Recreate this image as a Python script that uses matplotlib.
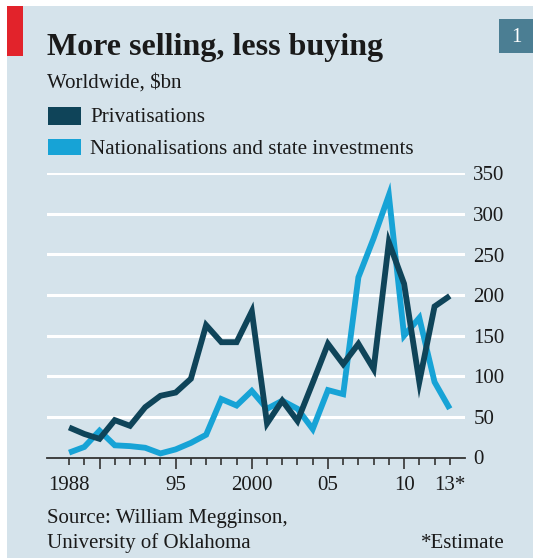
import matplotlib
matplotlib.use("Agg")
import matplotlib.pyplot as plt
from matplotlib.patches import Rectangle

years = list(range(1988, 2014))
privatisations = [37, 29, 23, 46, 39, 62, 76, 80, 97, 163, 142, 142, 180,
                  42, 70, 45, 92, 140, 115, 140, 109, 265, 214, 93, 186, 199]
nationalisations = [6, 13, 33, 15, 14, 12, 5, 10, 18, 28, 72, 64, 82,
                    60, 70, 60, 35, 83, 78, 222, 270, 323, 150, 172, 93, 60]
yticks = [0, 50, 100, 150, 200, 250, 300, 350]
xlabels = {1988: "1988", 1995: "95", 2000: "2000", 2005: "05", 2010: "10", 2013: "13*"}

W, H = 533, 558
BG = "#d5e3eb"
DARK = "#0f4459"
LIGHT = "#17a3d6"
plt.rcParams['font.family'] = ['Liberation Serif', 'DejaVu Serif']

fig = plt.figure(figsize=(W / 100, H / 100), dpi=100)
fig.patch.set_facecolor("white")

def fx(x):
    return x / W

def fy(y):
    return 1 - y / H

# background panel
fig.patches.append(Rectangle((fx(7), 0), 1 - fx(7), fy(6), transform=fig.transFigure,
                             facecolor=BG, edgecolor="none", zorder=-5))
# red bar
fig.patches.append(Rectangle((fx(7), fy(56)), fx(23) - fx(7), fy(6) - fy(56),
                             transform=fig.transFigure, facecolor="#e2232b",
                             edgecolor="none", zorder=1))
# number box
fig.patches.append(Rectangle((fx(499), fy(53)), fx(533) - fx(499), fy(19) - fy(53),
                             transform=fig.transFigure, facecolor="#4b7e93",
                             edgecolor="none", zorder=1))
fig.text(fx(516), fy(37), "1", color="white", fontsize=15, ha="center", va="center")

fig.text(fx(47), fy(55), "More selling, less buying", fontsize=23, fontweight="bold",
         color="#1a1a1a", va="baseline")
fig.text(fx(47), fy(87.5), "Worldwide, $bn", fontsize=15, color="#1a1a1a", va="baseline")

# legend
fig.patches.append(Rectangle((fx(47.5), fy(125)), fx(81) - fx(47.5), fy(107) - fy(125),
                             transform=fig.transFigure, facecolor=DARK, edgecolor="none"))
fig.patches.append(Rectangle((fx(47.5), fy(155)), fx(81) - fx(47.5), fy(139) - fy(155),
                             transform=fig.transFigure, facecolor=LIGHT, edgecolor="none"))
fig.text(fx(90), fy(122.5), "Privatisations", fontsize=15.2, color="#1a1a1a", va="baseline")
fig.text(fx(90), fy(153.5), "Nationalisations and state investments", fontsize=15.2,
         color="#1a1a1a", va="baseline")

# axes
left, right, top, bottom = 47, 465, 173.3, 457.5
ax = fig.add_axes([fx(left), fy(bottom), fx(right) - fx(left), fy(top) - fy(bottom)])
ax.set_zorder(3)
ax.set_facecolor("none")
ax.set_xlim(1986.55, 2014.0)
ax.set_ylim(0, 350)
for s in ["top", "left", "right"]:
    ax.spines[s].set_visible(False)
ax.spines["bottom"].set_color("#333333")
ax.spines["bottom"].set_linewidth(1.3)
ax.spines["bottom"].set_zorder(5)

for v in yticks[1:]:
    ax.axhline(v, color="white", lw=2.2, zorder=1)

ax.plot(years, nationalisations, color=LIGHT, lw=4.2, zorder=3,
        solid_joinstyle="miter", solid_capstyle="butt")
ax.plot(years, privatisations, color=DARK, lw=4.2, zorder=4,
        solid_joinstyle="miter", solid_capstyle="butt")

ax.yaxis.tick_right()
ax.set_yticks(yticks)
ax.set_yticklabels([str(v) for v in yticks])
ax.tick_params(axis="y", length=0, pad=6, labelsize=15, labelcolor="#1a1a1a")

ax.set_xticks(years)
ax.set_xticklabels([xlabels.get(y, "") for y in years])
ax.tick_params(axis="x", direction="out", length=4.8, width=1.2, color="#333333",
               pad=8.5, labelsize=15, labelcolor="#1a1a1a")
for yr, t in zip(years, ax.xaxis.get_major_ticks()):
    if yr % 5 == 0:
        t.tick1line.set_markersize(8)

fig.text(fx(47), fy(523), "Source: William Megginson,", fontsize=15, color="#1a1a1a",
         va="baseline")
fig.text(fx(47), fy(548), "University of Oklahoma", fontsize=15, color="#1a1a1a",
         va="baseline")
fig.text(fx(505), fy(548), "*Estimate", fontsize=15, color="#1a1a1a", va="baseline",
         ha="right")

fig.savefig("out.png", dpi=100, facecolor=fig.get_facecolor())
